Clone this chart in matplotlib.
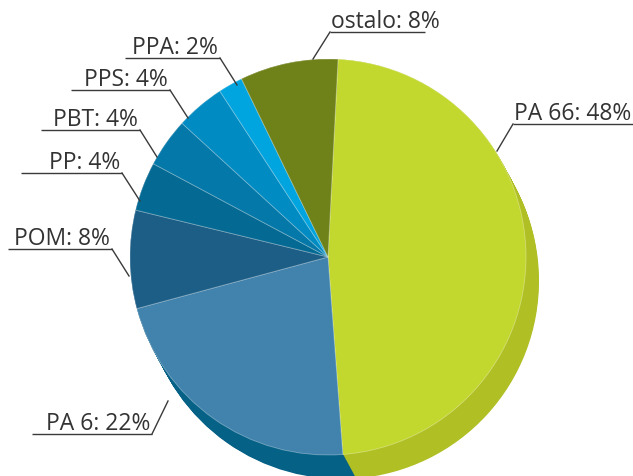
import numpy as np
import matplotlib.pyplot as plt

# slice data (clockwise from the top)
labels = ['PA 66', 'PA 6', 'POM', 'PP', 'PBT', 'PPS', 'PPA', 'ostalo']
shares = [48, 22, 8, 4, 4, 4, 2, 8]
top_colors = ['#c2d82e', '#4183ad', '#1d5e87', '#056a93', '#0478a8', '#008bc2', '#00a5df', '#6f8219']
side_colors = ['#b0bf23', '#066187', '#164c6e', '#04577a', '#03628a', '#00719f', '#0087b8', '#5b6b14']

# label layout in pixel coords: underline x0, x1, y, leader end x, y, side
label_layout = [
    (513, 633, 125, 497, 152, 'right'),
    (32, 152, 435, 168, 402, 'left'),
    (8, 112, 250, 129, 277, 'left'),
    (21, 122, 174, 140, 202, 'left'),
    (41, 140, 131, 157, 158, 'left'),
    (71, 170, 91, 188, 119, 'left'),
    (125, 220, 59, 237, 86, 'left'),
    (330, 425, 33, 313, 60, 'right'),
]

W, H = 633, 477
fig = plt.figure(figsize=(W / 100, H / 100), dpi=100)
ax = fig.add_axes([0, 0, 1, 1])

cx, cy, r = 328, H - 258, 198
start = 87.1

# extruded side: stacked copies of the pie shifted down/right
for t in np.linspace(1, 0, 30):
    ax.pie(shares, colors=side_colors, startangle=start, counterclock=False,
           center=(cx + 13 * t, cy - 24 * t), radius=r, frame=True,
           wedgeprops=dict(linewidth=0))

# top face
ax.pie(shares, colors=top_colors, startangle=start, counterclock=False,
       center=(cx, cy), radius=r, frame=True,
       wedgeprops=dict(linewidth=0.6, edgecolor=(1, 1, 1, 0.35)))

line_col = '#3a3a3a'
for lab, val, (x0, x1, y, lx, ly, side) in zip(labels, shares, label_layout):
    yy = H - y
    ax.plot([x0, x1], [yy, yy], color=line_col, lw=1.0, solid_capstyle='butt')
    if side == 'left':
        ax.plot([x1, lx], [yy, H - ly], color=line_col, lw=1.0)
        ax.text(x1 - 2, yy + 5, f'{lab}: {val}%', ha='right', va='baseline',
                fontsize=16.5, family='Open Sans', color='#333333')
    else:
        ax.plot([x0, lx], [yy, H - ly], color=line_col, lw=1.0)
        ax.text(x0 + 1, yy + 5, f'{lab}: {val}%', ha='left', va='baseline',
                fontsize=16.5, family='Open Sans', color='#333333')

ax.set_xlim(0, W)
ax.set_ylim(0, H)
ax.set_aspect('auto')
ax.axis('off')

fig.savefig('out.png', dpi=100)
